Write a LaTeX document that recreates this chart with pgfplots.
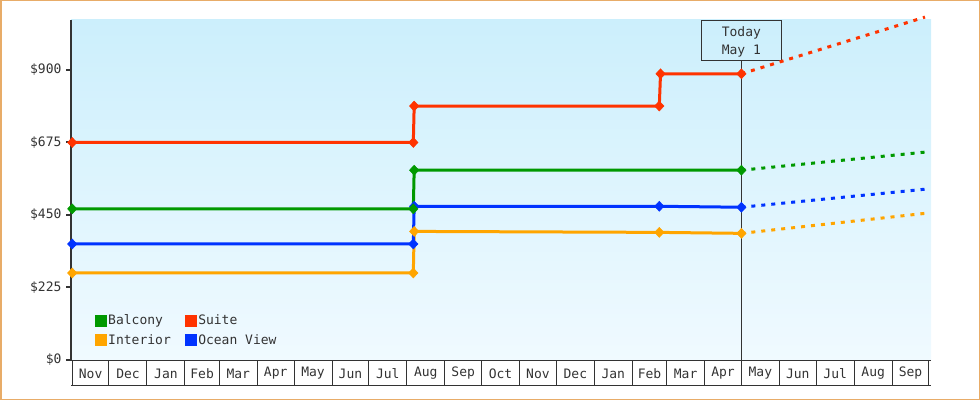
\documentclass[border=0pt]{standalone}
\usepackage{fontspec}
\setmainfont{DejaVu Sans Mono}
\usepackage{pgfplots}
\pgfplotsset{compat=1.18}

\definecolor{cred}{RGB}{255,51,0}
\definecolor{cgreen}{RGB}{0,153,0}
\definecolor{cblue}{RGB}{0,51,255}
\definecolor{corange}{RGB}{255,165,0}
\definecolor{axgray}{RGB}{51,51,51}
\definecolor{frame}{RGB}{232,172,104}
\definecolor{bgtop}{RGB}{204,239,252}
\definecolor{bgbot}{RGB}{240,250,255}

\newcommand{\cf}{\fontsize{13}{15}\selectfont}

\pgfplotsset{
  step/.style={line width=3pt, mark=diamond*, mark size=5pt,
    mark options={solid, line width=0.5pt, xscale=1.25}},
  fcast/.style={line width=3pt, dash pattern=on 4pt off 6pt},
}

\begin{document}
\begin{tikzpicture}[x=1pt,y=1pt]
\useasboundingbox (0,0) rectangle (980,400);
\draw[frame, line width=1.5pt] (0.75,0.75) rectangle (979.25,399.25);

\begin{axis}[
  at={(71pt,40pt)}, anchor=south west,
  scale only axis, width=860pt, height=340pt,
  xmin=-1, xmax=700.7, ymin=0, ymax=1055,
  clip=false,
  axis lines*=left,
  axis line style={-, axgray},
  x axis line style={line width=1pt},
  y axis line style={line width=2pt},
  axis background/.style={top color=bgtop, bottom color=bgbot},
  tick align=outside,
  ytick={0,225,450,675,900},
  yticklabels={\$0,\$225,\$450,\$675,\$900},
  major tick length=5pt,
  major y tick style={axgray, line width=2pt},
  xtick={15,45.5,76.5,106,135.5,166,196.5,227,257.5,288.5,319,349.5,380,410.5,441.5,471,500.5,531,561.5,592,622.5,653.5,684},
  xticklabels={Nov,Dec,Jan,Feb,Mar,Apr,May,Jun,Jul,Aug,Sep,Oct,Nov,Dec,Jan,Feb,Mar,Apr,May,Jun,Jul,Aug,Sep},
  major x tick style={draw=none},
  minor xtick={0,30,61,92,120,151,181,212,242,273,304,334,365,395,426,457,485,516,546,577,607,638,669,699},
  minor tick length=25pt,
  minor x tick style={axgray, line width=1pt},
  tick label style={font=\cf, text=axgray},
  xticklabel style={anchor=center, yshift=-8.5pt},
  yticklabel style={xshift=-1pt},
  legend image code/.code={\fill[#1] (0pt,-5.5pt) rectangle (11pt,5.5pt);},
  legend columns=2,
  legend cell align=left,
  legend style={draw=none, fill=none, font=\cf, text=axgray,
    at={(axis description cs:0.024,0.142)}, anchor=north west,
    row sep=6pt,
    nodes={inner sep=1pt},
    /tikz/every odd column/.append style={column sep=1pt},
    /tikz/every even column/.append style={column sep=13pt}},
]
% month band bottom line
\draw[axgray, line width=1pt] ([yshift=-25pt]rel axis cs:0,0) -- ([yshift=-25pt]rel axis cs:1,0);
% today marker
\draw[axgray, line width=1pt] (axis cs:546,0) -- (axis cs:546,931);
\node[draw=axgray, line width=1pt, minimum width=80pt, minimum height=40pt,
  anchor=north, align=center, font=\cf, text=axgray, inner sep=0pt]
  at (axis cs:546,1055) {};
\node[align=center, font=\cf, text=axgray, inner sep=0pt, anchor=center]
  at ([yshift=-22pt]axis cs:546,1055) {Today\\[3pt]May 1};

% forecasts
\addplot[corange, fcast, forget plot] coordinates {(546,393) (695.8,455)};
\addplot[cblue, fcast, forget plot] coordinates {(546,474) (695.8,530)};
\addplot[cgreen, fcast, forget plot] coordinates {(546,589) (695.8,645)};
\addplot[cred, fcast, forget plot] coordinates {(546,888) (695.8,1064)};

% history
\addplot[corange, step, forget plot] coordinates {(0,270) (278.3,270) (279,399) (479,396) (546,393)};
\addplot[cblue, step, forget plot] coordinates {(0,360) (278.3,360) (279,477) (479,477) (546,474)};
\addplot[cgreen, step, forget plot] coordinates {(0,469) (278.3,469) (279,589) (546,589)};
\addplot[cred, step, forget plot] coordinates {(0,675) (278.3,675) (279,788) (479,788) (480,888) (546,888)};

\addlegendimage{cgreen}\addlegendentry{Balcony}
\addlegendimage{cred}\addlegendentry{Suite}
\addlegendimage{corange}\addlegendentry{Interior}
\addlegendimage{cblue}\addlegendentry{Ocean View}
\end{axis}
\end{tikzpicture}
\end{document}
